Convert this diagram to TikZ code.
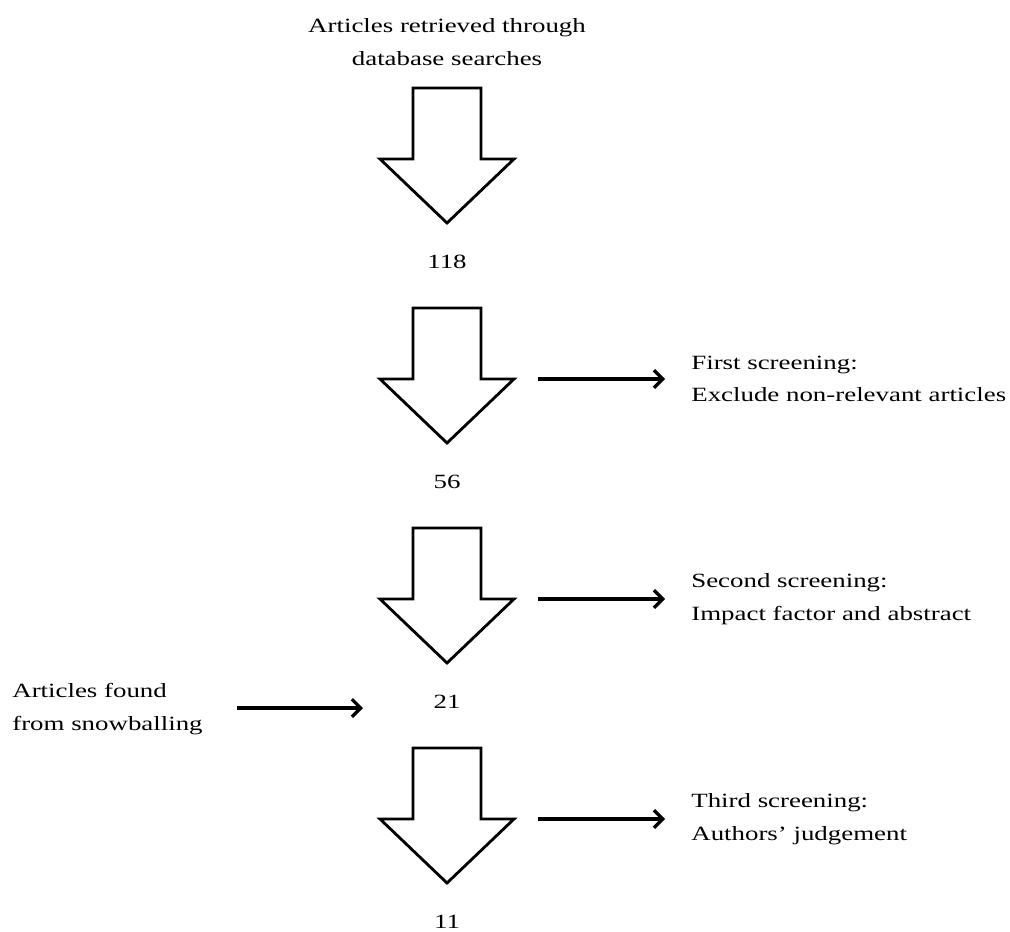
\documentclass[tikz,border=0pt]{standalone}
\usepackage{fontspec}
\setmainfont{Liberation Serif}[FakeStretch=1.33]
\usetikzlibrary{arrows.meta}

\begin{document}
\begin{tikzpicture}[x=0.02cm, y=-0.02cm,
    txt/.style={font=\fontsize{11.5}{18.5}\selectfont, inner sep=0pt},
    blockarrow/.style={line width=1.6pt, line join=miter},
    flow/.style={line width=1.9pt, -{Straight Barb[length=5pt, width=10pt]}}]
    \useasboundingbox (0, 0) rectangle (1010, 932);
    \node[txt, align=center] (src) at (447, 42) {Articles retrieved through\\database searches};
    \foreach \t in {88, 308, 528, 748}
        \draw[blockarrow] (413, \t) -- (481, \t) -- (481, \t+71) -- (514, \t+71)
            -- (447, \t+135) -- (380, \t+71) -- (413, \t+71) -- cycle;
    \node[txt] (n1) at (447, 262) {118};
    \node[txt] (n2) at (447, 482) {56};
    \node[txt] (n3) at (447, 702) {21};
    \node[txt] (n4) at (447, 922) {11};
    \coordinate (s1) at (538, 379);
    \coordinate (s2) at (538, 599);
    \coordinate (s3) at (538, 819);
    \node[txt, align=left, anchor=west] (scr1) at (691, 379) {First screening:\\Exclude non-relevant articles};
    \node[txt, align=left, anchor=west] (scr2) at (691, 599) {Second screening:\\Impact factor and abstract};
    \node[txt, align=left, anchor=west] (scr3) at (691, 819) {Third screening:\\Authors' judgement};
    \draw[flow, shorten >=26*0.02cm] (s1) -- (scr1.west);
    \draw[flow, shorten >=26*0.02cm] (s2) -- (scr2.west);
    \draw[flow, shorten >=26*0.02cm] (s3) -- (scr3.west);
    \node[txt, align=left, anchor=west] (snow) at (12, 709) {Articles found\\from snowballing};
    \draw[flow, shorten <=34*0.02cm] (snow.east |- 0, 708) -- (363, 708);
\end{tikzpicture}
\end{document}
